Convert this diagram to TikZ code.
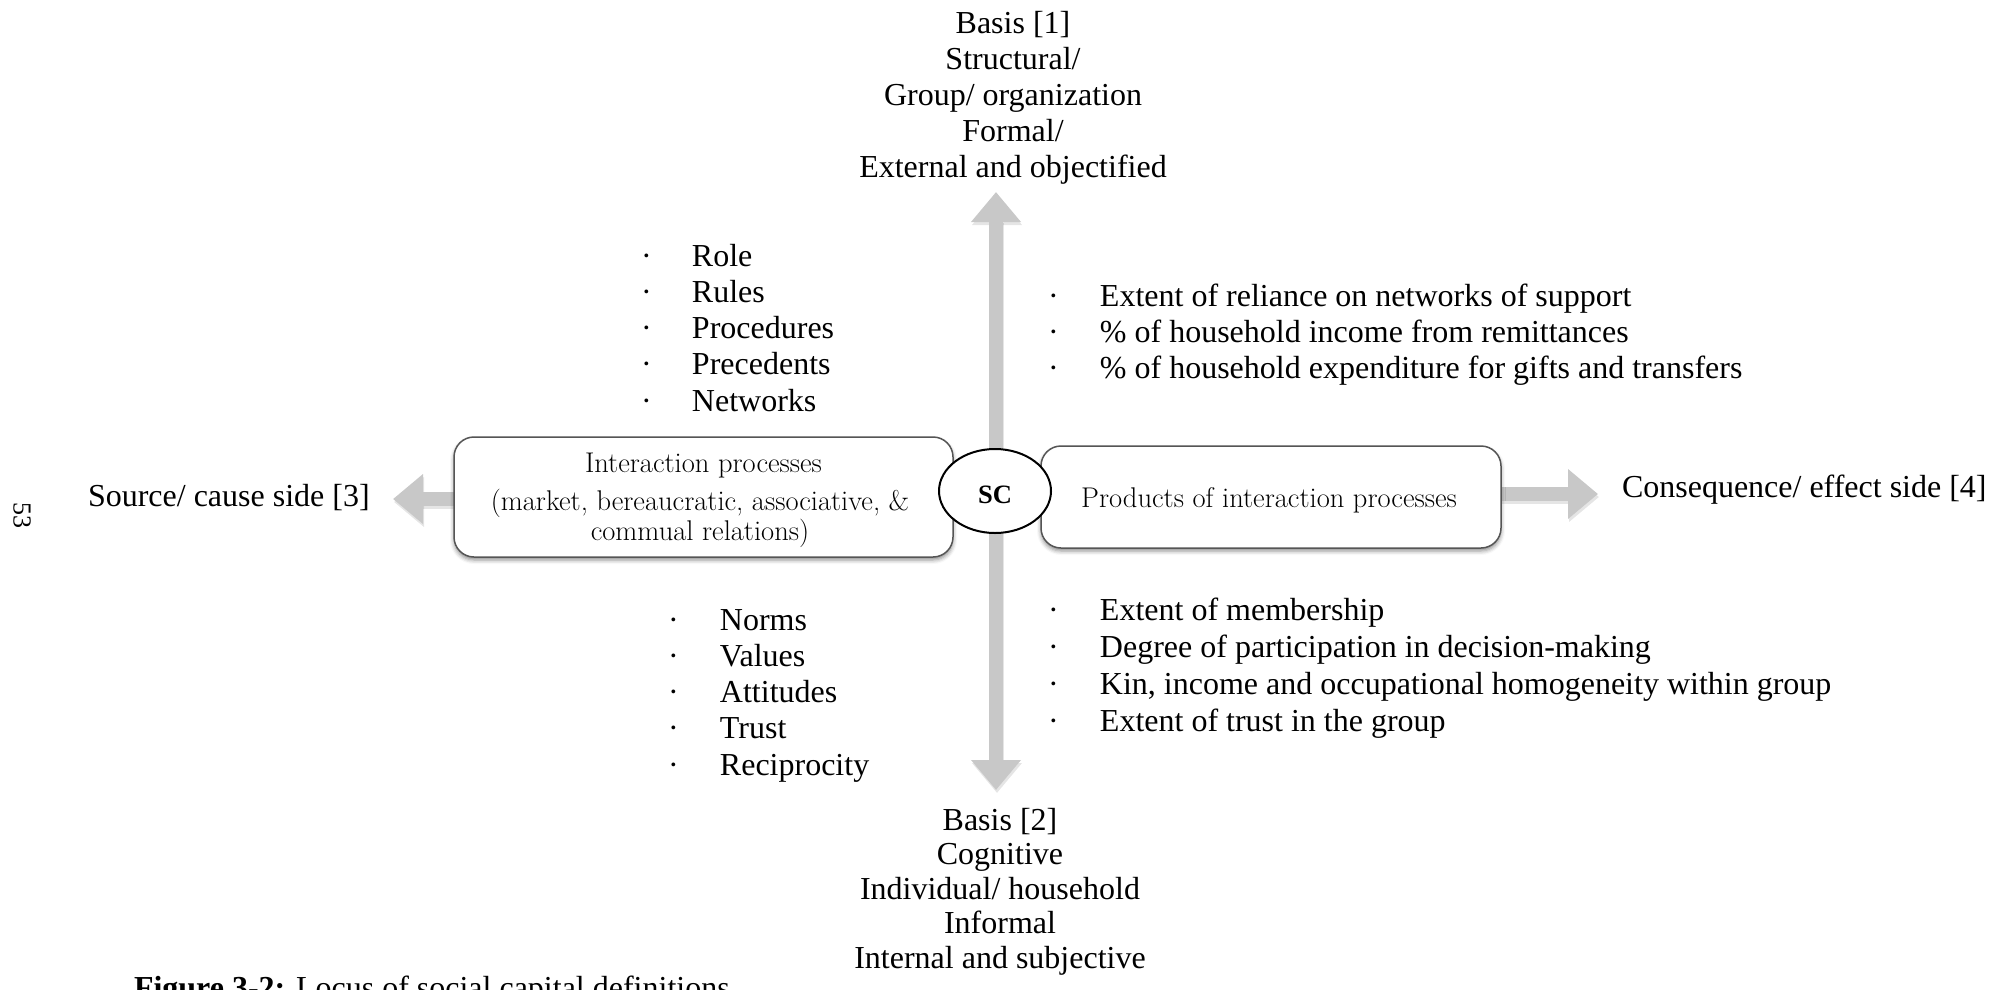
\documentclass[tikz,border=0pt]{standalone}
\usepackage{fontspec}
\newfontfamily\tnr{Liberation Serif}
\usetikzlibrary{arrows.meta,shapes.geometric,backgrounds,shadows.blur}
\definecolor{arrowgray}{HTML}{C8C8C8}
\definecolor{boxline}{HTML}{555555}

\tikzset{
  every node/.style={inner sep=0pt, outer sep=0pt},
  lbl/.style={font=\tnr\fontsize{32}{36}\selectfont, anchor=base},
  item/.style={font=\tnr\fontsize{32}{36}\selectfont, anchor=base west},
  boxtext/.style={font=\addfontfeatures{FakeBold=0.4}\fontsize{28.5}{30}\selectfont, anchor=base},
  procbox/.style={draw=boxline, line width=1.5pt, fill=white, rounded corners=20pt,
    blur shadow={shadow xshift=0pt, shadow yshift=-3pt, shadow blur radius=4pt, shadow opacity=45}},
  tip/.style={-{Triangle[width=48pt,length=30pt]}},
  twotips/.style={{Triangle[width=48pt,length=30pt]}-{Triangle[width=48pt,length=30pt]}},
  bigarrow/.style={draw=arrowgray, line width=14pt},
  arrowshade/.style={draw=black, line width=14pt, opacity=0.10,
    transform canvas={shift={(1pt,-3pt)}}},
}

\begin{document}
\begin{tikzpicture}[x=1pt, y=-1pt]
\useasboundingbox (0,0) rectangle (2002,989);

% central concept and its two sides
\node[procbox, minimum width=499pt, minimum height=120pt] (lbox) at (703.5,497) {};
\node[boxtext] (lt1) at (703.5,472) {Interaction processes};
\node[boxtext] (lt2) at (700,510) {(market, bereaucratic, associative, \&};
\node[boxtext] (lt3) at (700,540) {commual relations)};

\node[procbox, minimum width=460pt, minimum height=102pt] (rbox) at (1271,497) {};
\node[boxtext] (rt1) at (1269,507) {Products of interaction processes};

\node[ellipse, draw, line width=2pt, fill=white, minimum width=112pt, minimum height=84pt] (sc) at (995,491) {};
\node[font=\tnr\bfseries\fontsize{26.5}{26.5}\selectfont, anchor=base] (sclabel) at (995,503) {SC};

% arrow ends
\coordinate (ntip) at (996,192);
\coordinate (stip) at (996,790);
\coordinate (wtip) at (393,499);
\coordinate (etip) at (1598,494);

\begin{scope}[on background layer]
  \draw[arrowshade, twotips] (ntip) -- (stip);
  \draw[arrowshade, tip] (lbox.west |- wtip) -- (wtip);
  \draw[arrowshade, tip] (rbox.east |- etip) -- (etip);
  \draw[bigarrow, twotips] (ntip) -- (stip);
  \draw[bigarrow, tip] (lbox.west |- wtip) -- (wtip);
  \draw[bigarrow, tip] (rbox.east |- etip) -- (etip);
\end{scope}

% axis labels
\node[lbl] (n1) at (1013,33) {Basis [1]};
\node[lbl] (n2) at (1013,69) {Structural/};
\node[lbl] (n3) at (1013,105) {Group/ organization};
\node[lbl] (n4) at (1013,141) {Formal/};
\node[lbl] (n5) at (1013,177) {External and objectified};

\node[lbl] (s1) at (1000,830) {Basis [2]};
\node[lbl] (s2) at (1000,864.5) {Cognitive};
\node[lbl] (s3) at (1000,899) {Individual/ household};
\node[lbl] (s4) at (1000,933.5) {Informal};
\node[lbl] (s5) at (1000,968) {Internal and subjective};

\node[item] (west) at (88,506) {Source/ cause side [3]};
\node[item] (east) at (1622,497) {Consequence/ effect side [4]};

% bullet lists in the four quadrants
\foreach \t [count=\i] in {Role,Rules,Procedures,Precedents,Networks}
  \node[item] (ul\i) at (641,{266+36.3*(\i-1)}) {\makebox[51pt][l]{·}\t};
\foreach \t [count=\i] in {Norms,Values,Attitudes,Trust,Reciprocity}
  \node[item] (ll\i) at (668,{630+36.3*(\i-1)}) {\makebox[52pt][l]{·}\t};
\foreach \t [count=\i] in {{Extent of reliance on networks of support},
    {\% of household income from remittances},
    {\% of household expenditure for gifts and transfers}}
  \node[item] (ur\i) at (1048,{306+36*(\i-1)}) {\makebox[52pt][l]{·}\t};
\foreach \t [count=\i] in {{Extent of membership},
    {Degree of participation in decision-making},
    {Kin, income and occupational homogeneity within group},
    {Extent of trust in the group}}
  \node[item] (lr\i) at (1048,{620+37*(\i-1)}) {\makebox[52pt][l]{·}\t};

% page number and caption
\node[font=\tnr\fontsize{26}{26}\selectfont, rotate=-90] (pagenum) at (22,515) {53};
\node[item] (caption) at (134,998) {\textbf{Figure 3-2:} Locus of social capital definitions};
\end{tikzpicture}
\end{document}
